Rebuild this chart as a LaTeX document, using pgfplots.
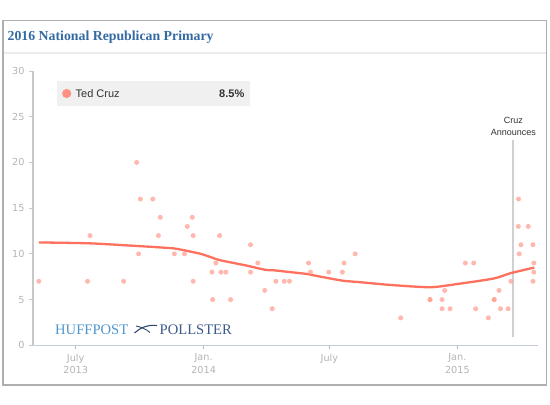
\documentclass[border=0pt]{standalone}
\usepackage{fontspec}
\usepackage{pgfplots}
\pgfplotsset{compat=1.18}
\setmainfont{Liberation Sans}
\newfontfamily\dejavu{DejaVu Sans}
\newfontfamily\tms{Liberation Serif}
\definecolor{ttl}{RGB}{52,106,163}
\definecolor{frame}{RGB}{175,175,175}
\definecolor{sep}{RGB}{235,235,235}
\definecolor{ticklab}{RGB}{180,180,180}
\definecolor{yline}{RGB}{200,200,200}
\definecolor{xline}{RGB}{196,204,218}
\definecolor{xtickc}{RGB}{160,185,215}
\definecolor{dot}{RGB}{255,160,145}
\definecolor{trend}{RGB}{255,105,85}
\definecolor{legbg}{RGB}{240,240,240}
\definecolor{huff}{RGB}{80,150,205}
\definecolor{poll}{RGB}{60,90,140}
\definecolor{cruzl}{RGB}{208,208,208}

\pgfplotstableread{
x y
-53 7
17 7
20.6 12
69 7
87.7 20
90.5 10
93 16
111 16
119 12
121.7 14
142 10
156.6 10
160.5 13
167.7 14
169 12
169 7
196 8
197 5
201.6 9
207 12
209 8
216 8
222.8 5
251.5 11
251.5 8
262 9
272 6
282.7 4
288 7
300 7
307.6 7
334.9 9
337.7 8
364 8
383.7 8
386 9
402 10
467.5 3
509.7 5
509.7 5
527 5
527 4
530.8 6
538.5 4
560.5 9
572.5 9
575.3 4
593.6 3
602 5
602 5
609 6
611 4
622 4
626 7
636.7 13
637 16
638 10
640.5 11
651 13
657.8 11
657.8 7
659 9
659 8
}\polls

\pgfplotstableread{
x y
-53 11.25
20.6 11.15
91 10.85
112.5 10.75
141 10.6
155.6 10.4
165 10.25
180 10.0
194 9.65
208 9.3
247 8.7
273 8.25
285 8.2
309 8.0
333 7.8
342.5 7.65
366.5 7.3
385.6 7.05
409.6 6.9
452.7 6.6
510 6.35
548.6 6.7
601 7.3
626 7.9
659.7 8.5
}\trendtab

\begin{document}
\begin{tikzpicture}[x=1pt,y=1pt]
\path[use as bounding box] (0,0) rectangle (550,405);
\draw[frame, line width=1.2pt] (3,20) rectangle (546.5,384.5);
\draw[sep, line width=2pt] (3.6,352) -- (545.9,352);
\node[anchor=base west, inner sep=0, text=ttl, font=\tms\bfseries\fontsize{13.8}{15}\selectfont] at (7.5,364) {2016 National Republican Primary};

\begin{axis}[
  at={(33pt,59.7pt)}, anchor=south west,
  scale only axis, width=505pt, height=274.3pt,
  xmin=-61.4, xmax=665, ymin=0, ymax=30,
  axis x line=bottom, axis y line=left,
  x axis line style={draw=xline, line width=1pt, -},
  y axis line style={draw=yline, line width=1pt, -},
  tick align=outside, major tick length=4pt,
  xtick={0,184,365,549},
  xticklabels={{July\\2013},{Jan.\\2014},{July},{Jan.\\2015}},
  ytick={0,5,10,15,20,25,30},
  xtick style={draw=xtickc, line width=0.8pt},
  ytick style={draw=yline, line width=0.8pt},
  minor tick num=0,
  /pgf/number format/assume math mode=true,
  ticklabel style={font=\dejavu\fontsize{9.7}{12.5}\selectfont, text=ticklab},
  xticklabel style={align=center, yshift=-1pt},
  yticklabel style={xshift=-1pt},
  clip=false,
]
\draw[cruzl, line width=1.8pt] (axis cs:629.5,0.9) -- (axis cs:629.5,22.4);
\node[anchor=south, align=center, inner sep=0, text=black!80, font=\fontsize{9}{12}\selectfont] at (axis cs:629.5,22.95) {Cruz\\Announces};
\addplot[only marks, mark=*, mark size=2.5pt, color=dot, draw opacity=0, fill opacity=0.75] table[x=x,y=y] {\polls};
\addplot[smooth, tension=0.4, line width=2.3pt, color=trend, opacity=0.95] table[x=x,y=y] {\trendtab};
\end{axis}

% legend
\fill[legbg] (57,299) rectangle (250,324);
\fill[dot!90!red] (66.7,311.5) circle (4.6);
\node[anchor=west, inner sep=0, text=black!80, font=\fontsize{11}{13}\selectfont] at (75.5,311.5) {Ted Cruz};
\node[anchor=east, inner sep=0, text=black!80, font=\bfseries\fontsize{11}{13}\selectfont] at (244.5,311.5) {8.5\%};

% logo
\node[anchor=base west, inner sep=0, text=huff, font=\tms\fontsize{14.6}{16}\selectfont] at (55,70.3) {HUFFPOST};
\node[anchor=base west, inner sep=0, text=poll, font=\tms\fontsize{14.6}{16}\selectfont] at (159.5,70.3) {POLLSTER};
\draw[poll!80!black, line width=1.1pt] (134.5,72) .. controls (140,77) and (147,80.5) .. (157,79.5);
\draw[poll!80!black, line width=0.9pt] (136,79) .. controls (141,78) and (146,76) .. (150,72.5);
\end{tikzpicture}
\end{document}
